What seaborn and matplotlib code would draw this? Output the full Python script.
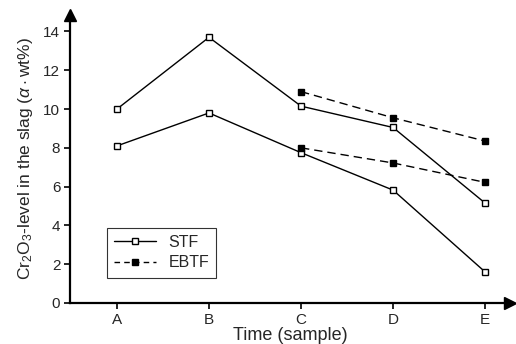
import matplotlib
matplotlib.use("Agg")
import matplotlib.pyplot as plt
import seaborn as sns
import pandas as pd
from matplotlib.lines import Line2D

samples = ["A", "B", "C", "D", "E"]
stf_high = [10.0, 13.7, 10.15, 9.05, 5.15]
stf_low = [8.1, 9.8, 7.75, 5.82, 1.6]
ebtf_samples = ["C", "D", "E"]
ebtf_high = [10.9, 9.55, 8.35]
ebtf_low = [8.0, 7.22, 6.22]
yticks = [0, 2, 4, 6, 8, 10, 12, 14]

sns.set_theme(style="white")
plt.rcParams["font.family"] = ["Liberation Sans", "DejaVu Sans"]
plt.rcParams["mathtext.fontset"] = "custom"
plt.rcParams["mathtext.rm"] = "Liberation Sans"
plt.rcParams["mathtext.it"] = "Liberation Sans:italic"

fig = plt.figure(figsize=(5.16, 3.44), dpi=100)
ax = fig.add_axes([70/516, 1-303/344, 440/516, 288/344])

pos = {s: i for i, s in enumerate(samples)}

def draw(xs, ys, dashed, filled):
    df = pd.DataFrame({"x": [pos[s] for s in xs], "y": ys})
    sns.lineplot(data=df, x="x", y="y", ax=ax, color="black", lw=1.0,
                 linestyle=(0, (6, 3.6)) if dashed else "-",
                 marker="s", markersize=4.2, markeredgewidth=1.0,
                 markerfacecolor="black" if filled else "white",
                 markeredgecolor="black", zorder=3)

draw(samples, stf_high, False, False)
draw(samples, stf_low, False, False)
draw(ebtf_samples, ebtf_high, True, True)
draw(ebtf_samples, ebtf_low, True, True)

ax.set_xlim(-0.51, 4.27)
ax.set_ylim(0, 14.85)
ax.set_xticks(range(len(samples)))
ax.set_xticklabels(samples, fontsize=11)
ax.set_yticks(yticks)
ax.set_yticklabels([str(t) for t in yticks], fontsize=11)
for s in ["top", "right"]:
    ax.spines[s].set_visible(False)
for s in ["left", "bottom"]:
    ax.spines[s].set_color("black")
    ax.spines[s].set_linewidth(1.6)
ax.tick_params(axis="both", direction="out", length=4, width=1.2, color="black",
               left=True, bottom=True, pad=3)
# arrow heads
ax.plot([0], [1], marker="^", color="black", markersize=8, transform=ax.transAxes, clip_on=False)
ax.plot([1], [0], marker=">", color="black", markersize=8, transform=ax.transAxes, clip_on=False)

ax.set_xlabel("Time (sample)", fontsize=13, labelpad=0)
ax.set_ylabel(r"Cr$_2$O$_3$-level in the slag ($\it{\alpha}\cdot$wt%)", fontsize=12.5, labelpad=6)

handles = [
    Line2D([], [], color="black", lw=1.0, marker="s", markersize=4.2,
           markerfacecolor="white", markeredgecolor="black", label="STF"),
    Line2D([], [], color="black", lw=1.0, linestyle=(0, (4, 3)), marker="s", markersize=4.2,
           markerfacecolor="black", markeredgecolor="black", label="EBTF"),
]
leg = ax.legend(handles=handles, loc="upper left", bbox_to_anchor=(0.084, 0.262),
                borderaxespad=0, frameon=True, fancybox=False, edgecolor="black",
                fontsize=11.5, handlelength=2.6, borderpad=0.45, labelspacing=0.35)
leg.get_frame().set_linewidth(0.8)

fig.savefig("out.png", dpi=100)
